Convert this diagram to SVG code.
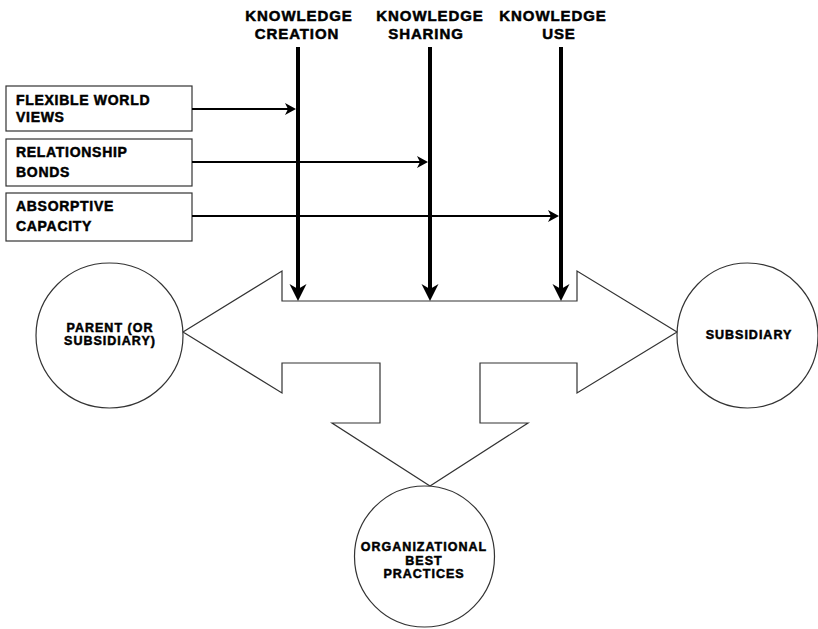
<svg xmlns="http://www.w3.org/2000/svg" width="818" height="629" viewBox="0 0 818 629">
<style>
text{font-family:"Liberation Sans",Arial,sans-serif;font-weight:bold;fill:#000;stroke:#000;stroke-width:0.5}
.top{font-size:15px;letter-spacing:0.9px;text-anchor:middle}
.box{font-size:14px;letter-spacing:0.7px}
.circ{font-size:12.5px;letter-spacing:1px;text-anchor:middle}
.shape{fill:#fff;stroke:#333;stroke-width:1.2}
.thick{stroke:#000;stroke-width:4;fill:none}
.thin{stroke:#000;stroke-width:2;fill:none}
</style>
<defs>
<path id="bigHead" d="M0,0 L-8.5,-17 L0,-12 L8.5,-17 Z" fill="#000"/>
<path id="smallHead" d="M0,0 L-11,-6 L-8,0 L-11,6 Z" fill="#000"/>
</defs>
<rect width="818" height="629" fill="#fff"/>

<g id="flow-arrow">
<polygon class="shape" points="282,301 577,301 577,271 677,332 577,393 577,363 480,363 480,423 528,423 430,486 332,423 380,423 380,363 282,363 282,393 183,332 282,271"/>
</g>

<g id="parent">
<ellipse class="shape" cx="109.5" cy="335.5" rx="73.5" ry="72.5"/>
<text class="circ" x="110" y="332">PARENT (OR</text>
<text class="circ" x="110" y="345">SUBSIDIARY)</text>
</g>

<g id="subsidiary">
<ellipse class="shape" cx="747.5" cy="335.5" rx="70.5" ry="72.5"/>
<text class="circ" x="749" y="339">SUBSIDIARY</text>
</g>

<g id="best-practices">
<ellipse class="shape" cx="424.5" cy="556.5" rx="70" ry="70.5"/>
<text class="circ" x="424" y="551">ORGANIZATIONAL</text>
<text class="circ" x="424" y="565">BEST</text>
<text class="circ" x="424" y="578">PRACTICES</text>
</g>

<g id="knowledge-creation">
<text class="top" x="299" y="21">KNOWLEDGE</text>
<text class="top" x="297" y="39">CREATION</text>
</g>
<g id="knowledge-sharing">
<text class="top" x="430" y="21">KNOWLEDGE</text>
<text class="top" x="426" y="39">SHARING</text>
</g>
<g id="knowledge-use">
<text class="top" x="553" y="21">KNOWLEDGE</text>
<text class="top" x="559" y="39">USE</text>
</g>

<g id="flexible-world-views">
<rect class="shape" x="6" y="86" width="186" height="45"/>
<text class="box" x="16" y="105">FLEXIBLE WORLD</text>
<text class="box" x="16" y="122">VIEWS</text>
</g>
<g id="relationship-bonds">
<rect class="shape" x="6" y="139" width="186" height="47"/>
<text class="box" x="16" y="157">RELATIONSHIP</text>
<text class="box" x="16" y="177">BONDS</text>
</g>
<g id="absorptive-capacity">
<rect class="shape" x="6" y="193" width="186" height="48"/>
<text class="box" x="16" y="211">ABSORPTIVE</text>
<text class="box" x="16" y="231">CAPACITY</text>
</g>

<g id="connectors">
<line class="thick" x1="298" y1="47" x2="298" y2="290"/>
<use href="#bigHead" transform="translate(298,301)"/>
<line class="thick" x1="430" y1="47" x2="430" y2="290"/>
<use href="#bigHead" transform="translate(430,301)"/>
<line class="thick" x1="561" y1="47" x2="561" y2="290"/>
<use href="#bigHead" transform="translate(561,301)"/>

<line class="thin" x1="192" y1="109" x2="289" y2="109"/>
<use href="#smallHead" transform="translate(296,109)"/>
<line class="thin" x1="192" y1="162" x2="421" y2="162"/>
<use href="#smallHead" transform="translate(428,162)"/>
<line class="thin" x1="192" y1="216" x2="552" y2="216"/>
<use href="#smallHead" transform="translate(559,216)"/>
</g>
</svg>
